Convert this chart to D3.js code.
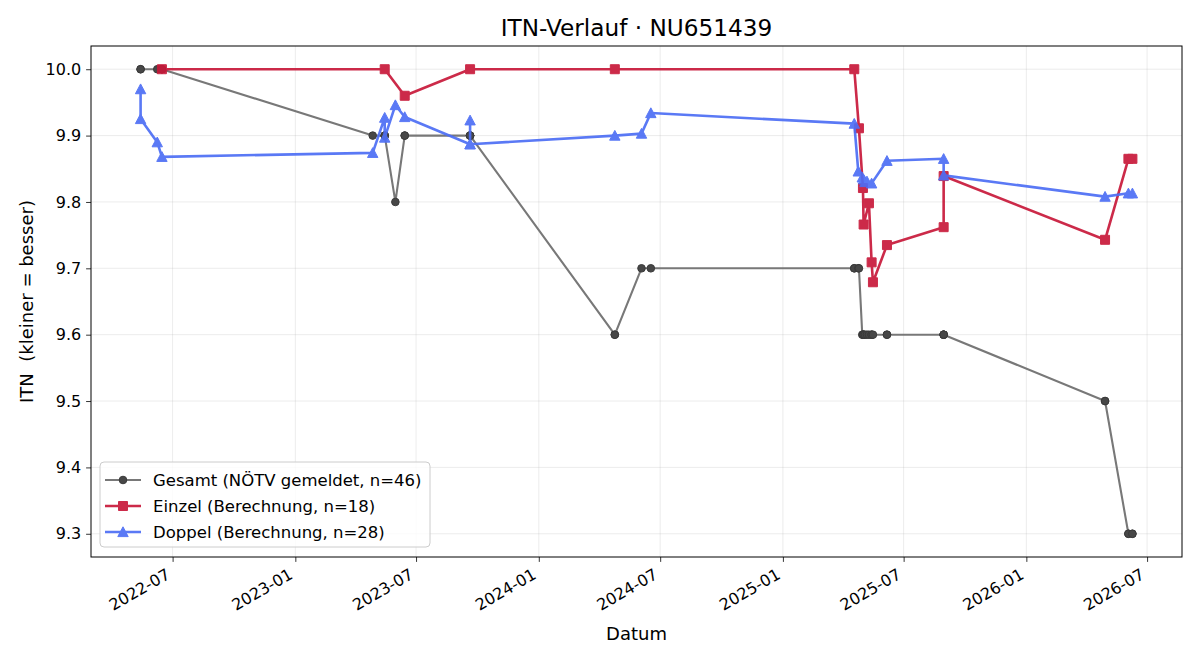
<!DOCTYPE html>
<html>
<head>
<meta charset="utf-8">
<script src="https://cdn.jsdelivr.net/npm/d3@7"></script>
<style>
  body { margin: 0; background: #fff; }
  text { font-family: "DejaVu Sans", sans-serif; fill: #000; }
</style>
</head>
<body>
<svg id="chart" width="1200" height="660"></svg>
<script>
// ITN history

// Gesamt (reported by NÖTV), one point per match
const gesamtDates = [
  "2022-05-14", "2022-05-14", "2022-06-08", "2022-06-15", "2022-06-15",
  "2023-04-27", "2023-05-15", "2023-05-15", "2023-05-15", "2023-05-31",
  "2023-06-14", "2023-06-14", "2023-09-20", "2023-09-20", "2023-09-20", "2023-09-20",
  "2024-04-24", "2024-04-24", "2024-06-03", "2024-06-17",
  "2025-04-18", "2025-04-18", "2025-04-24", "2025-04-25", "2025-04-30",
  "2025-05-01", "2025-05-02", "2025-05-02", "2025-05-04", "2025-05-07",
  "2025-05-10", "2025-05-14", "2025-05-14", "2025-05-16", "2025-06-06", "2025-06-06",
  "2025-08-30", "2025-08-30", "2025-08-30", "2025-08-30",
  "2026-04-29", "2026-04-29", "2026-06-03", "2026-06-03", "2026-06-09", "2026-06-09"
];
const gesamtITN = [
  10.0, 10.0, 10.0, 10.0, 10.0,
  9.9, 9.9, 9.9, 9.9, 9.8,
  9.9, 9.9, 9.9, 9.9, 9.9, 9.9,
  9.6, 9.6, 9.7, 9.7,
  9.7, 9.7, 9.7, 9.7, 9.6,
  9.6, 9.6, 9.6, 9.6, 9.6,
  9.6, 9.6, 9.6, 9.6, 9.6, 9.6,
  9.6, 9.6, 9.6, 9.6,
  9.5, 9.5, 9.3, 9.3, 9.3, 9.3
];

// Einzel (singles, computed)
const einzelDates = [
  "2022-06-15", "2023-05-15", "2023-06-14", "2023-09-20", "2024-04-24",
  "2025-04-18", "2025-04-25", "2025-05-01", "2025-05-02", "2025-05-10",
  "2025-05-14", "2025-05-16", "2025-06-06", "2025-08-30", "2025-08-30",
  "2026-04-29", "2026-06-03", "2026-06-09"
];
const einzelITN = [
  10.0, 10.0, 9.96, 10.0, 10.0,
  10.0, 9.911, 9.821, 9.766, 9.798,
  9.709, 9.679, 9.735, 9.762, 9.839,
  9.743, 9.865, 9.865
];

// Doppel (doubles, computed)
const doppelDates = [
  "2022-05-14", "2022-05-14", "2022-06-08", "2022-06-15",
  "2023-04-27", "2023-05-15", "2023-05-15", "2023-05-31", "2023-06-14",
  "2023-09-20", "2023-09-20", "2023-09-20",
  "2024-04-24", "2024-06-03", "2024-06-17",
  "2025-04-18", "2025-04-24", "2025-04-30", "2025-05-02", "2025-05-04",
  "2025-05-07", "2025-05-14", "2025-06-06", "2025-08-30", "2025-08-30",
  "2026-04-29", "2026-06-03", "2026-06-09"
];
const doppelITN = [
  9.970, 9.925, 9.890, 9.868,
  9.874, 9.927, 9.897, 9.946, 9.928,
  9.887, 9.923, 9.887,
  9.900, 9.903, 9.934,
  9.918, 9.846, 9.837, 9.834, 9.830,
  9.831, 9.828, 9.862, 9.865, 9.840,
  9.808, 9.813, 9.813
];

const yTicks = [9.3, 9.4, 9.5, 9.6, 9.7, 9.8, 9.9, 10.0];

const parse = d3.timeParse("%Y-%m-%d");
const zip = (ds, vs) => ds.map((d, i) => ({ date: parse(d), itn: vs[i] }));

const series = [
  { name: "Gesamt (NÖTV gemeldet, n=" + gesamtITN.length + ")", data: zip(gesamtDates, gesamtITN),
    line: "#787878", lw: 2.1, fill: "#474747", edge: "#3a3a3a", marker: "circle", opacity: 1 },
  { name: "Einzel (Berechnung, n=" + einzelITN.length + ")", data: zip(einzelDates, einzelITN),
    line: "#c8193a", lw: 2.6, fill: "#c8193a", edge: "#c8193a", marker: "square", opacity: 0.92 },
  { name: "Doppel (Berechnung, n=" + doppelITN.length + ")", data: zip(doppelDates, doppelITN),
    line: "#4d6ef5", lw: 2.6, fill: "#4d6ef5", edge: "#4d6ef5", marker: "triangle", opacity: 0.92 }
];

const svg = d3.select("#chart");
const margin = { left: 91, right: 18, top: 46, bottom: 103 };
const W = 1200, H = 660;
const innerW = W - margin.left - margin.right;
const innerH = H - margin.top - margin.bottom;

// matplotlib-like 5% padding
const allPts = series.flatMap(s => s.data);
const tExt = d3.extent(allPts, d => +d.date);
const tPad = (tExt[1] - tExt[0]) * 0.05;
const vExt = d3.extent(allPts, d => d.itn);
const vPad = (vExt[1] - vExt[0]) * 0.05;

const x = d3.scaleTime()
  .domain([new Date(tExt[0] - tPad), new Date(tExt[1] + tPad)])
  .range([0, innerW]);
const y = d3.scaleLinear()
  .domain([vExt[0] - vPad, vExt[1] + vPad])
  .range([innerH, 0]);

const g = svg.append("g").attr("transform", "translate(" + margin.left + "," + margin.top + ")");

const xTicks = x.ticks(d3.timeMonth.every(6));

// grid
g.append("g").selectAll("line").data(xTicks).enter().append("line")
  .attr("x1", d => x(d)).attr("x2", d => x(d))
  .attr("y1", 0).attr("y2", innerH)
  .attr("stroke", "#b0b0b0").attr("stroke-opacity", 0.3).attr("stroke-width", 0.8);
g.append("g").selectAll("line").data(yTicks).enter().append("line")
  .attr("x1", 0).attr("x2", innerW)
  .attr("y1", d => y(d)).attr("y2", d => y(d))
  .attr("stroke", "#b0b0b0").attr("stroke-opacity", 0.3).attr("stroke-width", 0.8);

// axes
const xAxis = g.append("g").attr("transform", "translate(0," + innerH + ")")
  .call(d3.axisBottom(x).tickValues(xTicks).tickFormat(d3.timeFormat("%Y-%m")).tickSize(4.9).tickPadding(4.9));
xAxis.select(".domain").remove();
xAxis.selectAll("line").attr("stroke", "#000").attr("stroke-width", 0.8);
xAxis.selectAll("text")
  .attr("font-size", "16px")
  .attr("text-anchor", "end")
  .attr("y", 0).attr("dy", 0)
  .attr("transform", "translate(-1.9,20.6) rotate(-30)");

const yAxis = g.append("g")
  .call(d3.axisLeft(y).tickValues(yTicks).tickFormat(d3.format(".1f")).tickSize(4.9).tickPadding(4.9));
yAxis.select(".domain").remove();
yAxis.selectAll("line").attr("stroke", "#000").attr("stroke-width", 0.8);
yAxis.selectAll("text").attr("font-size", "16px");

// markers
function markerPath(type) {
  if (type === "square") return "M-4.5,-4.5H4.5V4.5H-4.5Z";
  if (type === "triangle") return "M0,-5.2L5.2,4.6L-5.2,4.6Z";
  return d3.symbol(d3.symbolCircle, Math.PI * 3.8 * 3.8)();
}

const lineGen = d3.line().x(d => x(d.date)).y(d => y(d.itn));

series.forEach(s => {
  const sg = g.append("g").attr("opacity", s.opacity);
  sg.append("path").datum(s.data)
    .attr("d", lineGen)
    .attr("fill", "none")
    .attr("stroke", s.line)
    .attr("stroke-width", s.lw)
    .attr("stroke-linejoin", "round");
  sg.selectAll("path.mk").data(s.data).enter().append("path")
    .attr("class", "mk")
    .attr("transform", d => "translate(" + x(d.date) + "," + y(d.itn) + ")")
    .attr("d", markerPath(s.marker))
    .attr("fill", s.fill)
    .attr("stroke", s.edge)
    .attr("stroke-width", 1);
});

// frame
g.append("rect").attr("width", innerW).attr("height", innerH)
  .attr("fill", "none").attr("stroke", "#000").attr("stroke-width", 1);

// title & labels
svg.append("text").attr("x", margin.left + innerW / 2).attr("y", 36)
  .attr("text-anchor", "middle").attr("font-size", "23.2px")
  .text("ITN-Verlauf · NU651439");
svg.append("text").attr("x", margin.left + innerW / 2).attr("y", 640)
  .attr("text-anchor", "middle").attr("font-size", "18px")
  .text("Datum");
svg.append("text")
  .attr("transform", "translate(33," + (margin.top + innerH / 2) + ") rotate(-90)")
  .attr("text-anchor", "middle").attr("font-size", "18px")
  .style("white-space", "pre")
  .text("ITN  (kleiner = besser)");

// legend
const lg = svg.append("g").attr("transform", "translate(100,462)");
lg.append("rect").attr("width", 330).attr("height", 85).attr("rx", 4)
  .attr("fill", "#fff").attr("fill-opacity", 0.8)
  .attr("stroke", "#cccccc").attr("stroke-width", 1);
series.forEach((s, i) => {
  const ry = 18 + i * 26;
  const eg = lg.append("g").attr("opacity", s.opacity);
  eg.append("line").attr("x1", 5).attr("x2", 41).attr("y1", ry).attr("y2", ry)
    .attr("stroke", s.line).attr("stroke-width", s.lw);
  eg.append("path").attr("transform", "translate(23," + ry + ")")
    .attr("d", markerPath(s.marker))
    .attr("fill", s.fill).attr("stroke", s.edge).attr("stroke-width", 1);
  lg.append("text").attr("x", 53).attr("y", ry + 6).attr("font-size", "16.5px").text(s.name);
});
</script>
</body>
</html>
